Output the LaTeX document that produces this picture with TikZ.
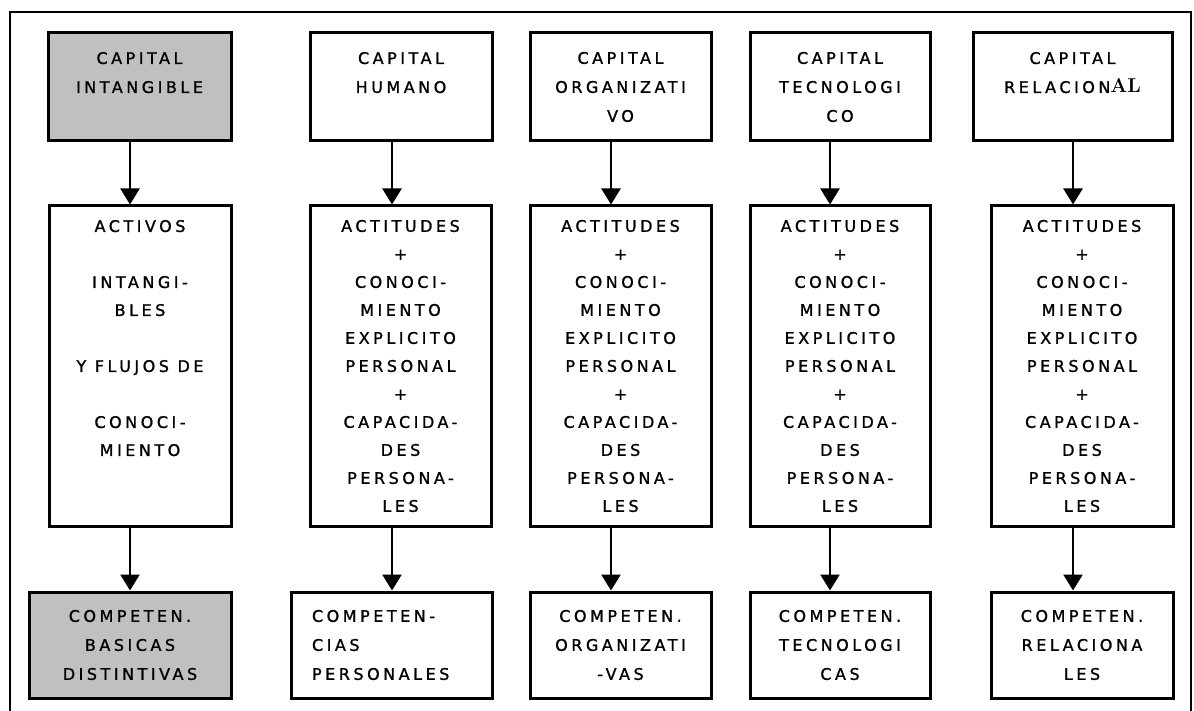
\documentclass[tikz,border=0pt]{standalone}
\usepackage{fontspec}
\usepackage{xcolor,tikz}
\usetikzlibrary{arrows.meta}
\newfontfamily\pixfont[LetterSpace=22,FakeBold=1.2]{DejaVu Sans}
\definecolor{boxgray}{RGB}{192,192,192}

\begin{document}
\begin{tikzpicture}[x=1pt, y=-1pt,
		box/.style={draw, line width=3pt, align=center, inner sep=2pt, font=\pixfont\fontsize{16}{29}\selectfont},
		capbox/.style={box, minimum height=108},
		actbox/.style={box, minimum height=320, font=\pixfont\fontsize{16}{28}\selectfont},
		compbox/.style={box, minimum height=106},
		shaded/.style={fill=boxgray},
		arrow/.style={line width=2.5pt, -{Triangle[width=19pt,length=16pt]}}]
			\useasboundingbox (0, 0) rectangle (1194, 711);
			\draw[line width=2.5pt] (10, 711) -- (10, 12) -- (1191, 12) -- (1191, 711);

			\draw (139.5, 87) 	node[capbox, shaded, minimum width=183] 	(cap_int) 	{CAPITAL\\INTANGIBLE\\~};
			\draw (401, 87) 	node[capbox, minimum width=182] 	(cap_hum) 	{CAPITAL\\HUMANO\\~};
			\draw (620.5, 87) 	node[capbox, minimum width=181] 	(cap_org) 	{CAPITAL\\ORGANIZATI\\VO};
			\draw (840, 87) 	node[capbox, minimum width=180] 	(cap_tec) 	{CAPITAL\\TECNOLOGI\\CO};
			\draw (1072.5, 87) 	node[capbox, minimum width=199] 	(cap_rel) 	{CAPITAL\\RELACION{\rmfamily\bfseries\fontsize{20}{29}\selectfont AL}\\~};

			\draw (140, 366) 	node[actbox, minimum width=182] 	(act_int) 	{ACTIVOS\\~\\INTANGI-\\BLES\\~\\Y FLUJOS DE\\~\\CONOCI-\\MIENTO\\~\\~};
			\draw (400.5, 366) 	node[actbox, minimum width=181] 	(act_hum) 	{ACTITUDES\\+\\CONOCI-\\MIENTO\\EXPLICITO\\PERSONAL\\+\\CAPACIDA-\\DES\\PERSONA-\\LES};
			\draw (620.5, 366) 	node[actbox, minimum width=181] 	(act_org) 	{ACTITUDES\\+\\CONOCI-\\MIENTO\\EXPLICITO\\PERSONAL\\+\\CAPACIDA-\\DES\\PERSONA-\\LES};
			\draw (840, 366) 	node[actbox, minimum width=180] 	(act_tec) 	{ACTITUDES\\+\\CONOCI-\\MIENTO\\EXPLICITO\\PERSONAL\\+\\CAPACIDA-\\DES\\PERSONA-\\LES};
			\draw (1082, 366) 	node[actbox, minimum width=182] 	(act_rel) 	{ACTITUDES\\+\\CONOCI-\\MIENTO\\EXPLICITO\\PERSONAL\\+\\CAPACIDA-\\DES\\PERSONA-\\LES};

			\draw (130, 645) 	node[compbox, shaded, minimum width=202] 	(comp_int) 	{COMPETEN.\\BASICAS\\DISTINTIVAS};
			\draw (391.5, 645) 	node[compbox, align=left, text width=159, inner xsep=21] 	(comp_hum) 	{COMPETEN-\\CIAS\\PERSONALES};
			\draw (620.5, 645) 	node[compbox, minimum width=181] 	(comp_org) 	{COMPETEN.\\ORGANIZATI\\-VAS};
			\draw (840, 645) 	node[compbox, minimum width=180] 	(comp_tec) 	{COMPETEN.\\TECNOLOGI\\CAS};
			\draw (1082, 645) 	node[compbox, minimum width=182] 	(comp_rel) 	{COMPETEN.\\RELACIONA\\LES};

			\coordinate (x_int) at (130, 0);
			\coordinate (x_hum) at (392, 0);
			\coordinate (x_org) at (611, 0);
			\coordinate (x_tec) at (830, 0);
			\coordinate (x_rel) at (1073, 0);

			\draw[arrow] (cap_int.south -| x_int) -- (act_int.north -| x_int);
			\draw[arrow] (cap_hum.south -| x_hum) -- (act_hum.north -| x_hum);
			\draw[arrow] (cap_org.south -| x_org) -- (act_org.north -| x_org);
			\draw[arrow] (cap_tec.south -| x_tec) -- (act_tec.north -| x_tec);
			\draw[arrow] (cap_rel.south -| x_rel) -- (act_rel.north -| x_rel);
			\draw[arrow] (act_int.south -| x_int) -- (comp_int.north -| x_int);
			\draw[arrow] (act_hum.south -| x_hum) -- (comp_hum.north -| x_hum);
			\draw[arrow] (act_org.south -| x_org) -- (comp_org.north -| x_org);
			\draw[arrow] (act_tec.south -| x_tec) -- (comp_tec.north -| x_tec);
			\draw[arrow] (act_rel.south -| x_rel) -- (comp_rel.north -| x_rel);
		\end{tikzpicture}
\end{document}
